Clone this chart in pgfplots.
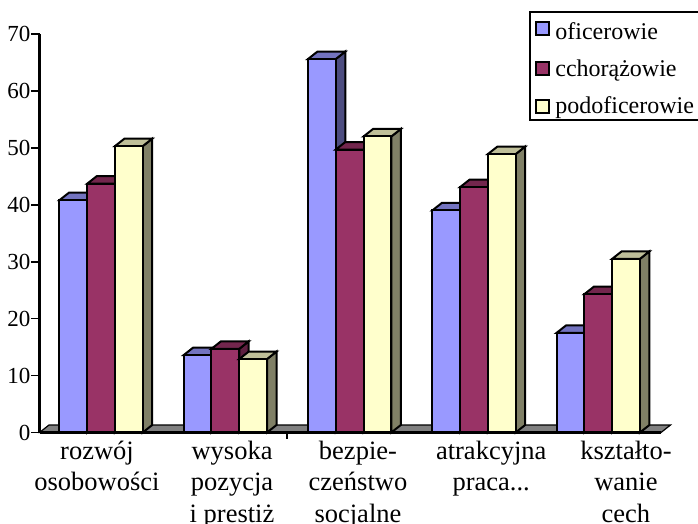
\documentclass[border=0pt]{standalone}
\usepackage{pgfplots}
\pgfplotsset{compat=1.18}
\usepackage{fontspec}
\setmainfont{Liberation Serif}

\definecolor{blueF}{HTML}{9999FF}\definecolor{blueS}{HTML}{4D4D80}\definecolor{blueT}{HTML}{7373BF}
\definecolor{wineF}{HTML}{993366}\definecolor{wineS}{HTML}{5E1F40}\definecolor{wineT}{HTML}{73264D}
\definecolor{creamF}{HTML}{FFFFCC}\definecolor{creamS}{HTML}{808066}\definecolor{creamT}{HTML}{BFBF99}

% depth of the oblique projection, in data units
\def\ddx{0.0764}
\def\ddy{1.317}
\def\bw{0.2235}
\tikzset{face/.style={draw=black,line width=2bp,line join=miter}}

% one oblique bar: left edge, value, colour prefix
\newcommand{\obar}[3]{%
  \pgfmathsetmacro{\xa}{#1}%
  \pgfmathsetmacro{\xb}{#1+\bw}%
  \pgfmathsetmacro{\xc}{#1+\bw+\ddx}%
  \pgfmathsetmacro{\xd}{#1+\ddx}%
  \pgfmathsetmacro{\yt}{#2+\ddy}%
  \edef\doplots{%
    \noexpand\addplot[face,fill=#3S,forget plot] coordinates {(\xb,0) (\xc,\ddy) (\xc,\yt) (\xb,#2)} --cycle;
    \noexpand\addplot[face,fill=#3T,forget plot] coordinates {(\xa,#2) (\xd,\yt) (\xc,\yt) (\xb,#2)} --cycle;
    \noexpand\addplot[face,fill=#3F,forget plot] coordinates {(\xa,0) (\xa,#2) (\xb,#2) (\xb,0)} --cycle;
  }\doplots}

% one group of three bars
\newcommand{\ogroup}[4]{%
  \pgfmathsetmacro{\ga}{#1+0.16}%
  \obar{\ga}{#2}{blue}%
  \pgfmathsetmacro{\gb}{#1+0.16+\bw}%
  \obar{\gb}{#3}{wine}%
  \pgfmathsetmacro{\gc}{#1+0.16+2*\bw}%
  \obar{\gc}{#4}{cream}}

\begin{document}
\begin{tikzpicture}
\useasboundingbox (-39.5bp,-91.5bp) rectangle (658.5bp,432.5bp);
\begin{axis}[
  at={(0,0)},
  scale only axis,
  width=621.5bp, height=398.5bp,
  xmin=0, xmax=5, ymin=0, ymax=70,
  clip=false,
  axis on top,
  axis lines=left,
  axis line style={-,line width=2.4bp,black},
  ytick={0,10,20,30,40,50,60,70},
  xtick={0.4626,1.549,2.562,3.634,4.718},
  xticklabels={{rozwój\\osobowości},{wysoka\\pozycja\\i prestiż},{bezpie-\\czeństwo\\socjalne},{atrakcyjna\\praca.{}.{}.},{kształto-\\wanie\\cech}},
  extra x ticks={1.99},
  extra x tick labels={},
  extra x tick style={major tick length=6bp,xtick style={draw=black,line width=1.6bp}},
  major tick length=8bp,
  xtick style={draw=none},
  ytick style={black,line width=1.6bp},
  tick align=outside,
  /pgf/number format/assume math mode=true,
  y tick label style={font=\fontsize{23bp}{26bp}\selectfont,inner xsep=1bp},
  x tick label style={font=\fontsize{26.5bp}{31.5bp}\selectfont,align=center,anchor=north,yshift=3bp},
  legend image code/.code={\draw[#1] (0bp,-6.5bp) rectangle (13.5bp,6.5bp);},
  legend style={
    at={(0.7877,1.0565)},anchor=north west,
    draw=black,line width=1.6bp,
    font=\fontsize{24bp}{26bp}\selectfont,
    inner xsep=5bp,inner ysep=4.5bp,
    row sep=19bp,
    legend cell align=left,
    nodes={inner xsep=5bp,inner ysep=0bp,line width=0bp},
  },
]
% floor of the chart
\addplot[draw=black,line width=1.2bp,fill=black!50,forget plot] coordinates {(0,0) (\ddx,\ddy) (5.0764,\ddy) (5,0)} --cycle;

\ogroup{0}{40.8}{43.7}{50.3}
\ogroup{1}{13.6}{14.7}{12.9}
\ogroup{2}{65.6}{49.7}{52.0}
\ogroup{3}{39.0}{43.1}{48.9}
\ogroup{4}{17.5}{24.3}{30.5}

\addlegendimage{fill=blueF,draw=black,line width=2bp}
\addlegendentry{\rule{0pt}{22.5bp}oficerowie}
\addlegendimage{fill=wineF,draw=black,line width=2bp}
\addlegendentry{cchorążowie}
\addlegendimage{fill=creamF,draw=black,line width=2bp}
\addlegendentry{podoficerowie}
\end{axis}
\end{tikzpicture}
\end{document}
